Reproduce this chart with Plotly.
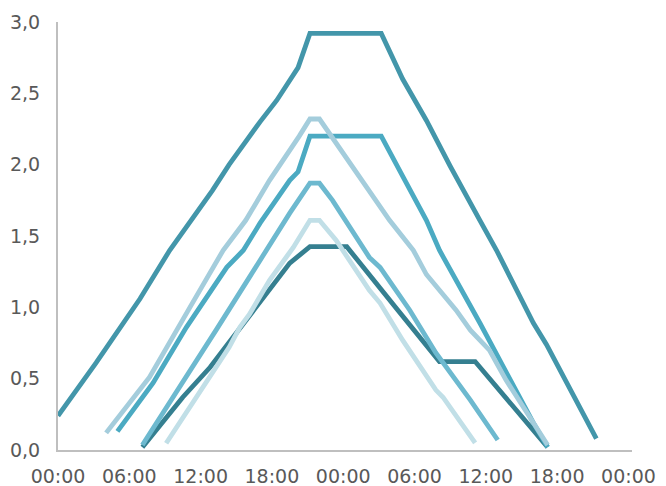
import plotly.graph_objects as go

# hours since start (0..48) and values
tick_hours = [0, 6, 12, 18, 24, 30, 36, 42, 48]
tick_labels = ["00:00", "06:00", "12:00", "18:00", "00:00", "06:00", "12:00", "18:00", "00:00"]
y_ticks = [0, 0.5, 1, 1.5, 2, 2.5, 3]

s6_h = [7.1, 10.5, 12.8, 15.0, 17.8, 19.5, 21.2, 24.3, 28.5, 32.1, 35.1, 38.3, 41.2]
s6_v = [0.02, 0.37, 0.58, 0.82, 1.12, 1.31, 1.425, 1.425, 0.99, 0.62, 0.62, 0.30, 0.02]

s1_h = [0, 3.2, 6.9, 9.4, 13.0, 14.4, 17.0, 18.4, 20.2, 21.2, 27.2, 29.0, 31.0, 33.0, 35.5, 36.9, 40.0, 41.1, 45.3]
s1_v = [0.24, 0.61, 1.06, 1.40, 1.82, 2.0, 2.30, 2.45, 2.68, 2.92, 2.92, 2.60, 2.31, 1.99, 1.61, 1.40, 0.89, 0.74, 0.08]

s3_h = [5.0, 8.0, 10.8, 14.2, 15.6, 17.0, 19.5, 20.2, 21.2, 27.2, 29.0, 31.0, 32.1, 35.5, 40.0, 41.2]
s3_v = [0.13, 0.47, 0.86, 1.28, 1.40, 1.59, 1.89, 1.95, 2.20, 2.20, 1.92, 1.61, 1.40, 0.89, 0.19, 0.02]

s4_h = [7.1, 10.5, 13.3, 16.1, 17.0, 19.5, 21.2, 22.0, 23.1, 26.2, 27.1, 29.6, 31.8, 34.7, 37.0]
s4_v = [0.035, 0.47, 0.84, 1.21, 1.33, 1.66, 1.87, 1.87, 1.75, 1.35, 1.28, 0.98, 0.68, 0.35, 0.07]

s5_h = [9.1, 12.0, 14.4, 15.3, 16.1, 17.8, 19.8, 21.2, 22.0, 23.4, 26.2, 27.1, 29.0, 31.8, 32.4, 35.1]
s5_v = [0.047, 0.42, 0.72, 0.86, 0.95, 1.19, 1.42, 1.61, 1.61, 1.47, 1.12, 1.03, 0.77, 0.42, 0.37, 0.05]

s2_h = [4.05, 7.7, 11.1, 13.9, 15.8, 17.8, 20.3, 21.2, 22.0, 24.0, 26.8, 27.9, 29.9, 31.0, 33.5, 34.7, 36.3, 37.7, 41.2]
s2_v = [0.12, 0.51, 1.0, 1.40, 1.61, 1.89, 2.20, 2.32, 2.32, 2.08, 1.75, 1.61, 1.40, 1.23, 0.98, 0.84, 0.70, 0.49, 0.035]

series = [
    (s6_h, s6_v, "#357F90"),
    (s1_h, s1_v, "#4396AA"),
    (s3_h, s3_v, "#4BAAC2"),
    (s4_h, s4_v, "#6DB9CF"),
    (s5_h, s5_v, "#C1DFE7"),
    (s2_h, s2_v, "#A4CDDC"),
]

fig = go.Figure()
for h, v, c in series:
    fig.add_trace(go.Scatter(x=h, y=v, mode="lines",
                             line=dict(color=c, width=4.8),
                             showlegend=False, hoverinfo="skip"))

font = dict(family="DejaVu Sans", size=19, color="#595959")
# the page body has an 8px default margin, so the figure is drawn 8px in
fig.update_layout(
    width=666, height=486,
    margin=dict(l=50, r=42, t=14, b=44),
    paper_bgcolor="white", plot_bgcolor="white",
    separators=", ",
    showlegend=False,
)
fig.update_xaxes(range=[0, 48.3], tickvals=tick_hours, ticktext=tick_labels,
                 showgrid=False, zeroline=False, showline=True,
                 linecolor="#BFBFBF", linewidth=2, ticks="",
                 tickfont=font, ticklabelstandoff=8, automargin=False)
fig.update_yaxes(range=[0, 3], tickvals=y_ticks,
                 tickformat=".1f", showgrid=False, zeroline=False,
                 showline=True, linecolor="#BFBFBF", linewidth=2, ticks="",
                 tickfont=font, ticklabelstandoff=12, automargin=False)

fig.write_html("out.html")
